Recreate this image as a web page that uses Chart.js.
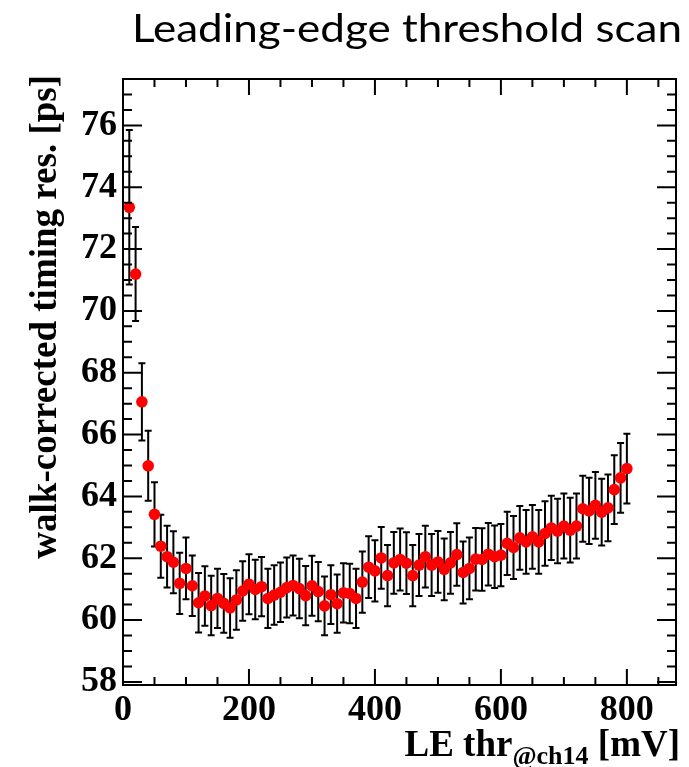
<!DOCTYPE html>
<html>
<head>
<meta charset="utf-8">
<title>Leading-edge threshold scan</title>
<script src="https://cdn.jsdelivr.net/npm/chart.js@4.4.1/dist/chart.umd.min.js"></script>
<style>
  html, body { margin: 0; padding: 0; background: #fff; }
  canvas { display: block; }
</style>
</head>
<body>
<canvas id="scan" width="689" height="767"></canvas>
<script>
// LE threshold [mV]
const thresholds = [
   10,  20,  30,  40,  50,  60,  70,  80,  90, 100,
  110, 120, 130, 140, 150, 160, 170, 180, 190, 200,
  210, 220, 230, 240, 250, 260, 270, 280, 290, 300,
  310, 320, 330, 340, 350, 360, 370, 380, 390, 400,
  410, 420, 430, 440, 450, 460, 470, 480, 490, 500,
  510, 520, 530, 540, 550, 560, 570, 580, 590, 600,
  610, 620, 630, 640, 650, 660, 670, 680, 690, 700,
  710, 720, 730, 740, 750, 760, 770, 780, 790, 800
];

// walk-corrected timing resolution [ps]
const resolution = [
  73.35, 71.19, 67.06, 64.99, 63.42, 62.39, 62.05, 61.87, 61.19, 61.67,
  61.11, 60.56, 60.78, 60.47, 60.70, 60.54, 60.39, 60.65, 60.94, 61.16,
  60.99, 61.08, 60.70, 60.81, 60.90, 61.05, 61.12, 61.02, 60.79, 61.11,
  60.92, 60.46, 60.82, 60.53, 60.88, 60.86, 60.70, 61.23, 61.71, 61.59,
  62.01, 61.44, 61.85, 61.96, 61.84, 61.44, 61.78, 62.05, 61.78, 61.88,
  61.64, 61.85, 62.12, 61.54, 61.67, 61.97, 61.96, 62.13, 62.05, 62.10,
  62.48, 62.35, 62.66, 62.53, 62.69, 62.53, 62.80, 62.98, 62.88, 63.04,
  62.91, 63.04, 63.60, 63.53, 63.71, 63.49, 63.63, 64.22, 64.60, 64.90
];

// symmetric errors [ps]
const resolutionErr = [
  2.50, 1.52, 1.25, 1.13, 1.04, 1.02, 1.00, 1.00, 0.99, 1.00,
  0.98, 0.96, 0.96, 0.96, 0.96, 0.95, 0.96, 0.96, 0.96, 0.97,
  0.96, 0.96, 0.96, 0.96, 0.96, 0.97, 0.97, 0.96, 0.96, 0.97,
  0.96, 0.95, 0.95, 0.94, 0.96, 0.96, 0.96, 0.99, 1.00, 0.99,
  1.00, 0.99, 1.00, 1.00, 1.00, 0.99, 1.00, 1.00, 1.00, 1.00,
  1.00, 1.00, 1.01, 1.00, 1.00, 1.01, 1.01, 1.01, 1.01, 1.01,
  1.02, 1.02, 1.03, 1.03, 1.03, 1.03, 1.04, 1.04, 1.04, 1.05,
  1.05, 1.05, 1.07, 1.07, 1.08, 1.08, 1.08, 1.11, 1.13, 1.13
];

const xTickLabels = [0, 200, 400, 600, 800];
const yTickLabels = [58, 60, 62, 64, 66, 68, 70, 72, 74, 76];

const titleText = 'Leading-edge threshold scan';
const yTitle = 'walk-corrected timing res. [ps]';
const xTitle = { main: 'LE thr', sub: '@ch14', unit: ' [mV]' };

const SERIF = '"Liberation Serif", "Times New Roman", serif';

// error bars with small caps, drawn under the markers
const errorBars = {
  id: 'errorBars',
  beforeDatasetsDraw(chart) {
    const { ctx, scales: { x, y } } = chart;
    ctx.save();
    ctx.strokeStyle = '#000';
    ctx.lineWidth = 2;
    thresholds.forEach((t, i) => {
      const px = x.getPixelForValue(t);
      const top = y.getPixelForValue(resolution[i] + resolutionErr[i]);
      const bot = y.getPixelForValue(resolution[i] - resolutionErr[i]);
      ctx.beginPath();
      ctx.moveTo(px, top); ctx.lineTo(px, bot);
      ctx.moveTo(px - 3.5, top); ctx.lineTo(px + 3.5, top);
      ctx.moveTo(px - 3.5, bot); ctx.lineTo(px + 3.5, bot);
      ctx.stroke();
    });
    ctx.restore();
  }
};

// ROOT-style frame: inward ticks on all four sides
const frame = {
  id: 'frame',
  afterDatasetsDraw(chart) {
    const { ctx, chartArea: a, scales: { x, y } } = chart;
    ctx.save();
    ctx.strokeStyle = '#000';
    ctx.lineWidth = 2;
    ctx.strokeRect(a.left, a.top, a.right - a.left, a.bottom - a.top);
    ctx.beginPath();
    for (let v = 0; v < x.max; v += 50) {
      const px = x.getPixelForValue(v);
      const len = v % 200 === 0 ? 16 : 8;
      ctx.moveTo(px, a.bottom); ctx.lineTo(px, a.bottom - len);
      ctx.moveTo(px, a.top); ctx.lineTo(px, a.top + len);
    }
    for (let v = 58; v < y.max; v += 0.5) {
      const py = y.getPixelForValue(v);
      const len = v % 2 === 0 ? 19 : 9;
      ctx.moveTo(a.left, py); ctx.lineTo(a.left + len, py);
      ctx.moveTo(a.right, py); ctx.lineTo(a.right - len, py);
    }
    ctx.stroke();
    ctx.restore();
  }
};

// page title and axis titles
const titles = {
  id: 'titles',
  afterDraw(chart) {
    const { ctx } = chart;
    ctx.save();
    ctx.fillStyle = '#000';

    // title, Calibri-like, stretched to its slot
    ctx.font = '38px Lato, "Open Sans", sans-serif';
    ctx.textBaseline = 'alphabetic';
    ctx.textAlign = 'left';
    const w = ctx.measureText(titleText).width;
    ctx.save();
    ctx.translate(132, 42);
    ctx.scale(550 / w, 1);
    ctx.fillText(titleText, 0, 0);
    ctx.restore();

    // y title, rotated, top-aligned
    ctx.save();
    ctx.font = 'bold 37px ' + SERIF;
    ctx.translate(56, 75);
    ctx.rotate(-Math.PI / 2);
    ctx.textAlign = 'right';
    ctx.fillText(yTitle, 0, 0);
    ctx.restore();

    // x title with subscript, right-aligned
    const right = 680, base = 756;
    ctx.font = 'bold 37px ' + SERIF;
    const wUnit = ctx.measureText(xTitle.unit).width;
    const wMain = ctx.measureText(xTitle.main).width;
    ctx.font = 'bold 26px ' + SERIF;
    const wSub = ctx.measureText(xTitle.sub).width;
    let xPos = right - wUnit - wSub - wMain;
    ctx.font = 'bold 37px ' + SERIF;
    ctx.fillText(xTitle.main, xPos, base);
    xPos += wMain;
    ctx.font = 'bold 26px ' + SERIF;
    ctx.fillText(xTitle.sub, xPos, base + 8);
    xPos += wSub;
    ctx.font = 'bold 37px ' + SERIF;
    ctx.fillText(xTitle.unit, xPos, base);
    ctx.restore();
  }
};

new Chart(document.getElementById('scan'), {
  type: 'scatter',
  data: {
    datasets: [{
      data: thresholds.map((t, i) => ({ x: t, y: resolution[i] })),
      backgroundColor: '#ff0000',
      borderWidth: 0,
      pointRadius: 5.8,
      pointHoverRadius: 5.8
    }]
  },
  options: {
    responsive: false,
    animation: false,
    events: [],
    layout: { padding: { top: 79, right: 13, left: 0, bottom: 0 } },
    plugins: { legend: { display: false }, tooltip: { enabled: false }, title: { display: false } },
    scales: {
      x: {
        type: 'linear',
        min: 0,
        max: 878,
        grid: { display: false, drawTicks: false },
        border: { display: false },
        afterBuildTicks: s => { s.ticks = xTickLabels.map(v => ({ value: v })); },
        afterFit: s => { s.height = 82; },
        ticks: { color: '#000', padding: 4, maxRotation: 0, font: { family: SERIF, size: 36, weight: 'bold' } }
      },
      y: {
        type: 'linear',
        min: 57.9,
        max: 77.5,
        grid: { display: false, drawTicks: false },
        border: { display: false },
        afterBuildTicks: s => { s.ticks = yTickLabels.map(v => ({ value: v })); },
        afterFit: s => { s.width = 123; },
        ticks: { color: '#000', padding: 6, font: { family: SERIF, size: 36, weight: 'bold' } }
      }
    }
  },
  plugins: [errorBars, frame, titles]
});
</script>
</body>
</html>
